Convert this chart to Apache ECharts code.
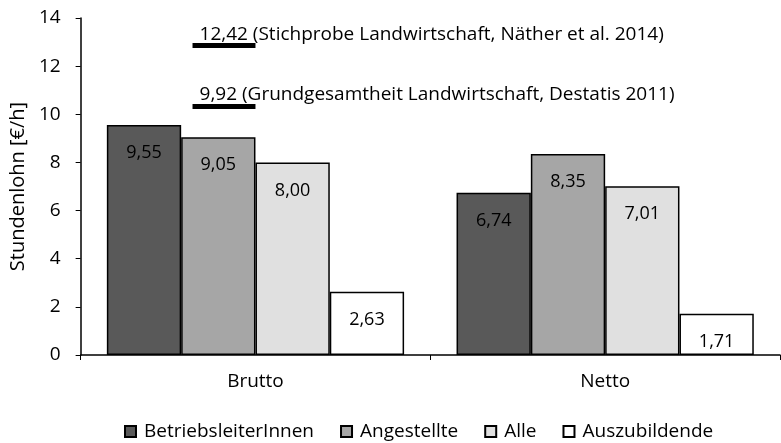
<!DOCTYPE html>
<html>
<head>
<meta charset="utf-8">
<script src="https://cdn.jsdelivr.net/npm/echarts@6/dist/echarts.min.js"></script>
<style>
  html, body { margin: 0; padding: 0; background: #fff; }
  #chart { width: 781px; height: 443px; }
</style>
</head>
<body>
<div id="chart"></div>
<script>
const categories = ['Brutto', 'Netto'];
const seriesNames = ['BetriebsleiterInnen', 'Angestellte', 'Alle', 'Auszubildende'];
const betriebsleiter = [9.55, 6.74];
const angestellte = [9.05, 8.35];
const alle = [8.00, 7.01];
const auszubildende = [2.63, 1.71];
const seriesColors = ['#595959', '#a6a6a6', '#e0e0e0', '#ffffff'];

// reference wages drawn as short bars above the Brutto group
const refTexts = [
  '12,42 (Stichprobe Landwirtschaft, Näther et al. 2014)',
  '9,92 (Grundgesamtheit Landwirtschaft, Destatis 2011)'
];
const refLevels = [12.85, 10.35];   // height where the bars are drawn in the figure
const refSpan = [0.32, 0.5];        // along the Brutto group (0..1 = first category)

const yTicks = [0, 2, 4, 6, 8, 10, 12, 14];

const FONT = 'Open Sans';
const fmt = v => v.toFixed(2).replace('.', ',');

const chart = echarts.init(document.getElementById('chart'));

const barData = [betriebsleiter, angestellte, alle, auszubildende];

const option = {
  animation: false,
  textStyle: { fontFamily: FONT },
  grid: { left: 80, right: 1, top: 18, bottom: 88 },
  legend: {
    data: seriesNames,
    left: 124,
    top: 422,
    padding: 0,
    icon: 'rect',
    itemWidth: 11,
    itemHeight: 11,
    itemGap: 26,
    textStyle: { fontSize: 19, color: '#000', fontFamily: FONT, padding: [0, 0, 0, 3] }
  },
  xAxis: [
    {
      type: 'category',
      data: categories,
      axisLine: { lineStyle: { color: '#000', width: 1.5 } },
      axisTick: { show: true, length: 5, lineStyle: { color: '#000' } },
      axisLabel: { fontSize: 19, color: '#000', margin: 17, fontFamily: FONT }
    },
    { type: 'value', min: 0, max: 2, show: false }
  ],
  yAxis: {
    type: 'value',
    min: 0,
    max: 14,
    interval: 2,
    name: 'Stundenlohn [€/h]',
    nameLocation: 'middle',
    nameGap: 45,
    nameTextStyle: { fontSize: 20, color: '#000', fontFamily: FONT },
    axisLine: { show: true, lineStyle: { color: '#000', width: 1.5 } },
    axisTick: { show: true, length: 5, lineStyle: { color: '#000' } },
    axisLabel: {
      fontSize: 19, color: '#000', margin: 20, fontFamily: FONT,
      formatter: v => (yTicks.includes(v) ? String(v) : '')
    },
    splitLine: { show: false }
  },
  series: seriesNames.map((name, i) => ({
    name,
    type: 'bar',
    data: barData[i],
    barGap: '0%',
    barCategoryGap: '15%',
    itemStyle: { color: seriesColors[i], borderColor: '#000', borderWidth: 1.5 },
    label: {
      show: true,
      position: 'insideTop',
      distance: 19,
      fontSize: 18,
      color: '#000',
      fontFamily: FONT,
      formatter: p => fmt(p.value)
    }
  })).concat([{
    name: 'ref',
    type: 'line',
    xAxisIndex: 1,
    data: [],
    markLine: {
      silent: true,
      symbol: 'none',
      lineStyle: { color: '#000', width: 5, type: 'solid' },
      label: {
        show: true,
        position: 'insideStartTop',
        distance: [7, 2],
        fontSize: 19,
        color: '#000',
        fontFamily: FONT
      },
      data: refLevels.map((lv, i) => [
        { coord: [refSpan[0], lv], label: { formatter: refTexts[i] } },
        { coord: [refSpan[1], lv] }
      ])
    }
  }])
};

chart.setOption(option);
</script>
</body>
</html>
